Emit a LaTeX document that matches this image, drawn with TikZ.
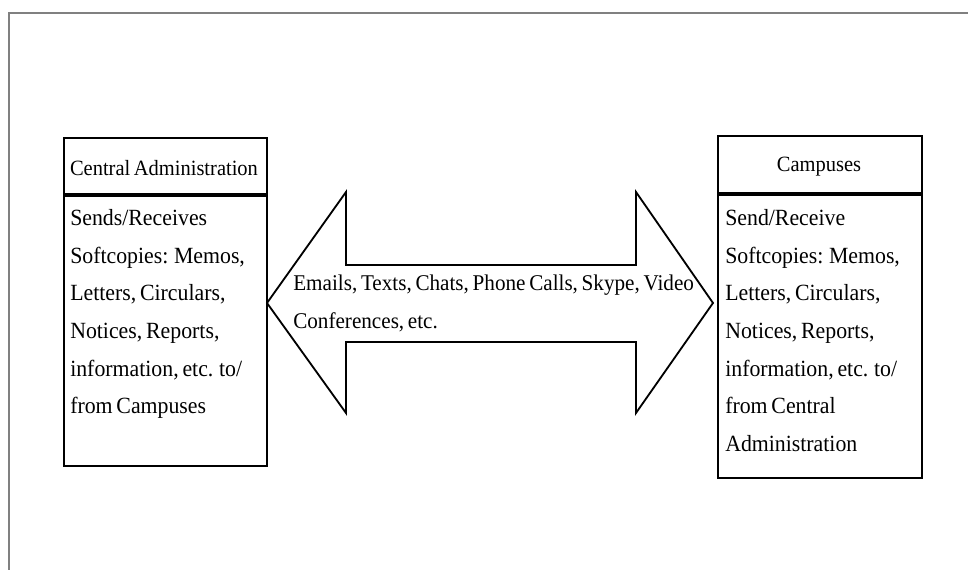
\documentclass[tikz,border=0pt]{standalone}
\usepackage{fontspec}
\setmainfont[FakeStretch=0.94, WordSpace=0.7]{Liberation Serif}
\usetikzlibrary{positioning}
\tikzset{
  frame/.style={draw, line width=1.4pt, inner sep=0pt, anchor=north west},
  divider/.style={line width=2.8pt},
  headtext/.style={font=\fontsize{15.5}{20}\selectfont, inner sep=0pt},
  bodytext/.style={align=left, anchor=north west, inner sep=0pt,
    font=\fontsize{16.5}{26.8}\selectfont},
  bigarrow/.style={draw, line width=1.3pt, line join=miter},
}
\begin{document}
\begin{tikzpicture}[x=0.025cm,y=-0.025cm]
\useasboundingbox (0,0) rectangle (968,570);
% outer frame, only top and left edges show
\draw[gray, line width=1pt] (9,570) -- (9,13) -- (968,13);
% central administration
\node[frame, minimum width=5.075cm, minimum height=8.2cm] (central) at (63,137) {};
\draw[divider] (63,195) -- (266,195);
\node[headtext] (centraltitle) at (164,168) {Central Administration};
\node[bodytext] (centraltext) at (70,209) {Sends/Receives\\Softcopies: Memos,\\Letters, Circulars,\\Notices, Reports,\\information, etc. to/\\from Campuses};
% campuses
\node[frame, minimum width=5.1cm, minimum height=8.55cm] (campus) at (717,135) {};
\draw[divider] (717,194) -- (921,194);
\node[headtext] (campustitle) at (819,167) {Campuses};
\node[bodytext] (campustext) at (725,209) {Send/Receive\\Softcopies: Memos,\\Letters, Circulars,\\Notices, Reports,\\information, etc. to/\\from Central\\Administration};
% two-way arrow between the boxes
\draw[bigarrow] (267,303) -- (346,192) -- (346,265) -- (636,265) -- (636,192)
  -- (713,303) -- (636,413) -- (636,342) -- (346,342) -- (346,413) -- cycle;
\node[bodytext, font=\fontsize{16}{26.8}\selectfont] (media) at (293,275) {Emails, Texts, Chats, Phone Calls, Skype, Video\\Conferences, etc.};
\end{tikzpicture}
\end{document}
